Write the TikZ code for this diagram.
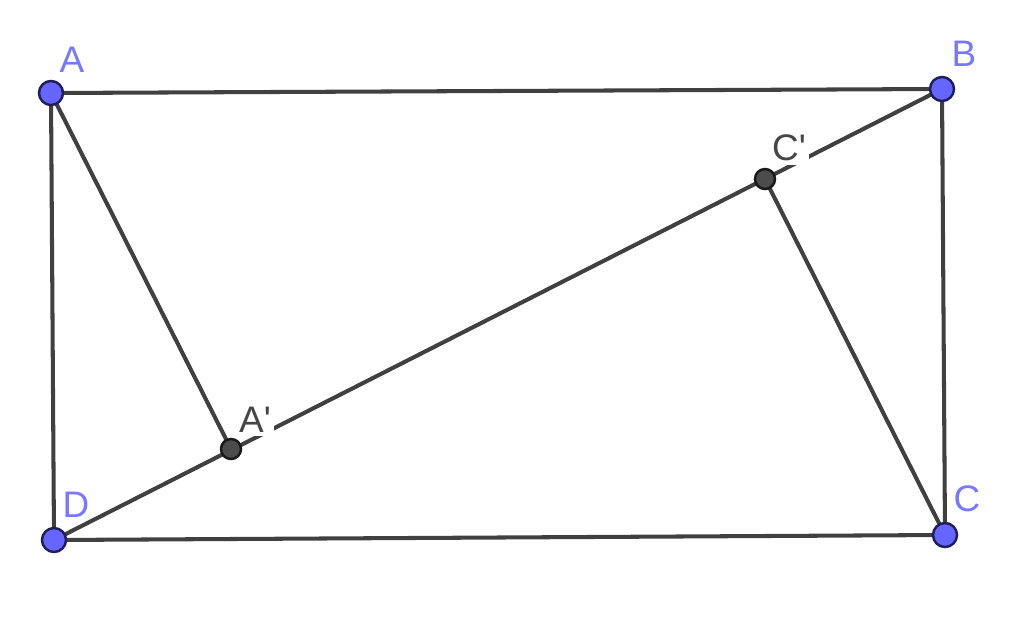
\documentclass[tikz,border=0pt]{standalone}
\usepackage{fontspec}
\setmainfont{Liberation Sans}
\usepackage{xcolor}
\usetikzlibrary{positioning}

\definecolor{ptblue}{RGB}{102,102,255}
\definecolor{ptedge}{RGB}{30,30,90}
\definecolor{segcol}{RGB}{64,64,64}
\definecolor{lblblue}{RGB}{120,120,255}
\definecolor{lblgray}{RGB}{70,70,70}

\begin{document}
\begin{tikzpicture}[
    x=0.01cm, y=-0.01cm,
    seg/.style={segcol, line width=1.15pt},
    freept/.style={circle, draw=ptedge, fill=ptblue, line width=0.7pt, minimum size=0.24cm, inner sep=0pt},
    footpt/.style={circle, draw=black!90, fill=black!70, line width=0.7pt, minimum size=0.2cm, inner sep=0pt},
    lbl/.style={font=\fontsize{10.5}{12}\selectfont, text=lblblue, inner sep=0pt},
    footlbl/.style={lbl, text=lblgray}
]
\useasboundingbox (0,0) rectangle (1024,627);

% Vertices
\coordinate (A) at (51,93);
\coordinate (B) at (942,89);
\coordinate (C) at (945,535);
\coordinate (D) at (54,540);

% Feet of perpendiculars on BD
\coordinate (A1) at (231,449);
\coordinate (C1) at (765,179);

% Rectangle and diagonal
\draw[seg] (A) -- (B) -- (C) -- (D) -- cycle;
\draw[seg] (D) -- (B);

% Perpendiculars
\draw[seg] (A) -- (A1);
\draw[seg] (C) -- (C1);

% Points
\node[freept] (pA) at (A) {};
\node[freept] (pB) at (B) {};
\node[freept] (pC) at (C) {};
\node[freept] (pD) at (D) {};
\node[footpt] (pA1) at (A1) {};
\node[footpt] (pC1) at (C1) {};

% Labels
\node[lbl] (lA) at (72,60) {A};
\node[lbl] (lB) at (964,54) {B};
\node[lbl] (lC) at (967,499) {C};
\node[lbl] (lD) at (76,505) {D};
\node[footlbl, fill=white, inner sep=1pt] (lA1) at (255,420) {A\textquotesingle};
\node[footlbl, fill=white, inner sep=1pt] (lC1) at (789,148) {C\textquotesingle};

\end{tikzpicture}
\end{document}
